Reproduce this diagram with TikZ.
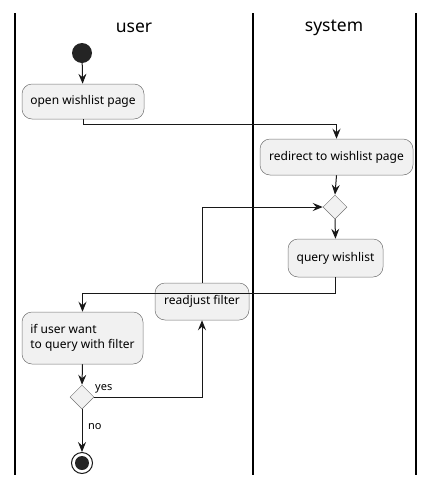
\documentclass[tikz,border=0pt]{standalone}
\usepackage{fontspec}
\setmainfont{Noto Sans}
\usetikzlibrary{arrows.meta,shapes.geometric}
\definecolor{boxfill}{HTML}{F1F1F1}
\definecolor{linec}{HTML}{181818}
\tikzset{
  act/.style={draw=linec!60, line width=0.5pt, fill=boxfill, rounded corners=10pt, inner sep=0pt, font=\fontsize{12}{15.5}\selectfont, align=left},
  dec/.style={diamond, draw=linec!60, line width=0.5pt, fill=boxfill, minimum width=24pt, minimum height=24pt, inner sep=0pt},
  flow/.style={draw=linec, line width=1pt, -{Stealth[length=10pt,width=8pt,inset=3.5pt]}},
  lane/.style={draw=black, line width=1.5pt},
  hdr/.style={font=\fontsize{17.5}{20}\selectfont, inner sep=0pt},
  lbl/.style={font=\fontsize{11}{13}\selectfont, inner sep=0pt}
}
\begin{document}
\begin{tikzpicture}[x=1pt,y=-1pt]
\useasboundingbox (0,0) rectangle (434,485);
% lanes
\coordinate (l1t) at (15,13); \coordinate (l1b) at (15,475);
\coordinate (l2t) at (253,13); \coordinate (l2b) at (253,475);
\coordinate (l3t) at (416,13); \coordinate (l3b) at (416,475);
\draw[lane] (l1t) -- (l1b);
\draw[lane] (l2t) -- (l2b);
\draw[lane] (l3t) -- (l3b);
\node[hdr] (huser) at (134,28) {user};
\node[hdr] (hsys) at (334,28) {system};
% nodes
\node[circle, fill=linec!95, minimum size=20pt, inner sep=0pt] (start) at (82,53) {};
\node[act, minimum width=122pt, minimum height=35pt, align=center] (open) at (83,101.5) {open wishlist page};
\node[act, minimum width=153pt, minimum height=36pt, align=center] (redir) at (336.5,157) {redirect to wishlist page};
\node[dec] (d1) at (335,207) {};
\node[act, minimum width=95pt, minimum height=38pt, align=center] (query) at (335.5,258) {query wishlist};
\node[act, minimum width=94pt, minimum height=37pt, align=center] (readj) at (202,301.5) {readjust filter};
\node[act, minimum width=121pt, minimum height=52pt, align=left] (ifu) at (82.5,338) {if user want\\to query with filter};
\node[dec] (d2) at (82,397) {};
\node[circle, draw=linec, line width=1pt, fill=white, minimum size=21pt, inner sep=0pt] (stop) at (82,463) {};
\node[circle, fill=linec!95, minimum size=14pt, inner sep=0pt] (stopin) at (stop.center) {};
% connectors
\draw[flow] (start) -- (open);
\draw[flow] (open.south) -- ++(0,5) -| (redir.north);
\draw[flow] (redir.south) -- (d1.north);
\draw[flow] (d1.south) -- (query.north);
\draw[flow] (query.south) -- ++(0,16) -| (ifu.north);
\draw[flow] (readj.north) |- (d1.west);
\draw[flow] (ifu.south) -- (d2.north);
\draw[flow] (d2.east) -| (readj.south);
\draw[flow] (d2.south) -- (stop.north);
\node[lbl, anchor=west] (yes) at (95,389) {yes};
\node[lbl, anchor=west] (no) at (88,427) {no};
\end{tikzpicture}
\end{document}
